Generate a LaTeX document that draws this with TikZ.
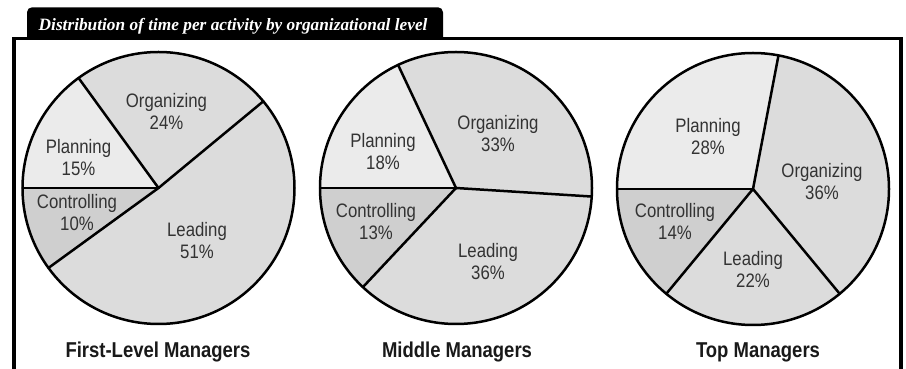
\documentclass[tikz,border=0pt]{standalone}
\usepackage{fontspec}
\setmainfont{Liberation Serif}
\newfontfamily\labelfont[FakeStretch=0.86]{Liberation Sans}
\newfontfamily\titlefont{Liberation Serif}
\definecolor{plancol}{HTML}{EBEBEB}
\definecolor{orgcol}{HTML}{DCDCDC}
\definecolor{leadcol}{HTML}{DCDCDC}
\definecolor{ctrlcol}{HTML}{CFCFCF}
\definecolor{labgray}{HTML}{333333}
\newcommand\myslice[4]{%
  \fill[#4] (#1) -- ++(#2:136) arc[start angle=#2, end angle=#3, radius=136] -- cycle;}
\newcommand\myspoke[2]{\draw[pieline] (#1) -- ++(#2:136);}
\tikzset{
  pieline/.style={line width=2.5pt, line cap=round, line join=round, draw=black},
  lab/.style={font=\labelfont\fontsize{19.5}{22}\selectfont, align=center, text=labgray, inner sep=0pt},
  capt/.style={font=\labelfont\bfseries\fontsize{21.5}{24}\selectfont, text=black!90, inner sep=0pt, anchor=base},
  frameline/.style={line width=3.5pt, draw=black},
}
\begin{document}
\begin{tikzpicture}[x=1pt,y=1pt]
\useasboundingbox (0,0) rectangle (906,369);
\fill[white] (0,0) rectangle (906,369);
% frame and tab
\fill[black] (27,330) -- (27,356.7) arc[start angle=180,end angle=90,radius=5] -- (438,361.7) arc[start angle=90,end angle=0,radius=5] -- (443,330) -- cycle;
\draw[frameline] (13.8,-10) -- (13.8,330.7) -- (901,330.7) -- (901,-10);
\node[font=\titlefont\bfseries\itshape\fontsize{17.3}{20}\selectfont, text=white, anchor=base west, inner sep=0pt] (title) at (38.5,338) {Distribution of time per activity by organizational level};
% pie 1
\coordinate (p1) at (158.5,181);
\myslice{p1}{180}{216}{ctrlcol}
\myslice{p1}{216}{399.6}{leadcol}
\myslice{p1}{39.6}{126}{orgcol}
\myslice{p1}{126}{180}{plancol}
\myspoke{p1}{180}\myspoke{p1}{216}\myspoke{p1}{39.6}\myspoke{p1}{126}
\draw[pieline] (p1) circle[radius=136];
% pie 2
\coordinate (p2) at (456,181);
\myslice{p2}{180}{226.8}{ctrlcol}
\myslice{p2}{226.8}{356.4}{leadcol}
\myslice{p2}{356.4}{475.2}{orgcol}
\myslice{p2}{115.2}{180}{plancol}
\myspoke{p2}{180}\myspoke{p2}{226.8}\myspoke{p2}{356.4}\myspoke{p2}{115.2}
\draw[pieline] (p2) circle[radius=136];
% pie 3
\coordinate (p3) at (753,180);
\myslice{p3}{180}{230.4}{ctrlcol}
\myslice{p3}{230.4}{309.6}{leadcol}
\myslice{p3}{309.6}{439.2}{orgcol}
\myslice{p3}{79.2}{180}{plancol}
\myspoke{p3}{180}\myspoke{p3}{230.4}\myspoke{p3}{309.6}\myspoke{p3}{79.2}
\draw[pieline] (p3) circle[radius=136];
% labels pie 1
\node[lab] (aorg) at (166.5,257.5) {Organizing\\24\%};
\node[lab] (aplan) at (78.5,211.5) {Planning\\15\%};
\node[lab] (actrl) at (77,156.5) {Controlling\\10\%};
\node[lab] (alead) at (197,128) {Leading\\51\%};
% labels pie 2
\node[lab] (bplan) at (383,217.5) {Planning\\18\%};
\node[lab] (borg) at (498,235.5) {Organizing\\33\%};
\node[lab] (bctrl) at (376,147.5) {Controlling\\13\%};
\node[lab] (blead) at (488,107.5) {Leading\\36\%};
% labels pie 3
\node[lab] (cplan) at (708,232.5) {Planning\\28\%};
\node[lab] (corg) at (822,187.5) {Organizing\\36\%};
\node[lab] (cctrl) at (675,148) {Controlling\\14\%};
\node[lab] (clead) at (753,100) {Leading\\22\%};
% captions
\node[capt] (cap1) at (158,11.3) {First-Level Managers};
\node[capt] (cap2) at (457,11.3) {Middle Managers};
\node[capt] (cap3) at (758,11.3) {Top Managers};
\end{tikzpicture}
\end{document}
